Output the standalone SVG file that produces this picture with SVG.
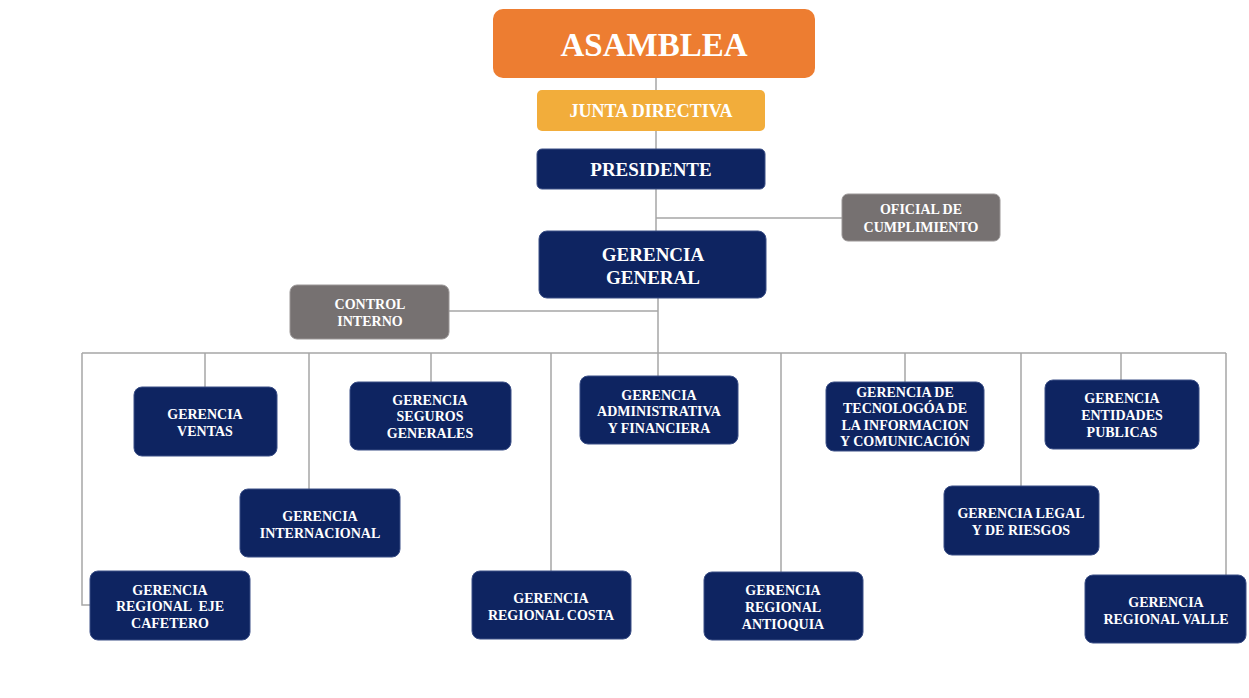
<svg xmlns="http://www.w3.org/2000/svg" width="1249" height="698" viewBox="0 0 1249 698">
<style>
.n rect{fill:#0E2461;stroke:#3A4E86;stroke-width:1}
.g rect{fill:#767171;stroke:#9A9696;stroke-width:1}
text{font-family:"Liberation Serif","Times New Roman",serif;font-weight:bold;fill:#fff;text-anchor:middle}
.s{font-size:14px}
.c line, .c polyline{stroke:#A6A6A6;stroke-width:1.5;fill:none}
</style>
<rect width="1249" height="698" fill="#fff"/>
<g class="c" id="connectors">
<line x1="656" y1="78" x2="656" y2="231"/>
<line x1="656" y1="218" x2="842" y2="218"/>
<line x1="658" y1="298" x2="658" y2="376"/>
<line x1="449" y1="311" x2="658" y2="311"/>
<line x1="82" y1="353" x2="1226" y2="353"/>
<polyline points="82,353 82,605 90,605"/>
<line x1="205" y1="353" x2="205" y2="387"/>
<line x1="309" y1="353" x2="309" y2="489"/>
<line x1="431" y1="353" x2="431" y2="382"/>
<line x1="551" y1="353" x2="551" y2="571"/>
<line x1="781" y1="353" x2="781" y2="572"/>
<line x1="905" y1="353" x2="905" y2="382"/>
<line x1="1021" y1="353" x2="1021" y2="486"/>
<line x1="1121" y1="353" x2="1121" y2="380"/>
<line x1="1226" y1="353" x2="1226" y2="575"/>
</g>
<g id="asamblea"><rect x="493" y="9" width="322" height="69" rx="10" fill="#ED7D31"/><text x="654" y="56" font-size="33">ASAMBLEA</text></g>
<g id="junta"><rect x="537" y="90" width="228" height="41" rx="5" fill="#F2AD3B"/><text x="651" y="117" font-size="18">JUNTA DIRECTIVA</text></g>
<g id="presidente" class="n"><rect x="537" y="149" width="228" height="40" rx="5"/><text x="651" y="176" font-size="19">PRESIDENTE</text></g>
<g id="oficial" class="g"><rect x="842" y="194" width="158" height="47" rx="6"/><text x="921" y="214" font-size="14">OFICIAL DE</text><text x="921" y="232" font-size="14">CUMPLIMIENTO</text></g>
<g id="gerencia-general" class="n"><rect x="539" y="231" width="227" height="67" rx="8"/><text x="653" y="261" font-size="19">GERENCIA</text><text x="653" y="284" font-size="19">GENERAL</text></g>
<g id="control" class="g"><rect x="290" y="285" width="159" height="54" rx="7"/><text x="370" y="309" font-size="14">CONTROL</text><text x="370" y="326" font-size="14">INTERNO</text></g>
<g id="ventas" class="n s"><rect x="134" y="387" width="143" height="69" rx="8"/><text x="205" y="419">GERENCIA</text><text x="205" y="436">VENTAS</text></g>
<g id="seguros" class="n s"><rect x="350" y="382" width="161" height="68" rx="8"/><text x="430" y="405">GERENCIA</text><text x="430" y="421">SEGUROS</text><text x="430" y="438">GENERALES</text></g>
<g id="admin" class="n s"><rect x="580" y="376" width="158" height="68" rx="8"/><text x="659" y="400">GERENCIA</text><text x="659" y="416">ADMINISTRATIVA</text><text x="659" y="433">Y FINANCIERA</text></g>
<g id="tecnologia" class="n s"><rect x="826" y="382" width="158" height="69" rx="8"/><text x="905" y="397">GERENCIA DE</text><text x="905" y="413">TECNOLOGÓA DE</text><text x="905" y="430">LA INFORMACION</text><text x="905" y="446">Y COMUNICACIÓN</text></g>
<g id="entidades" class="n s"><rect x="1045" y="380" width="154" height="69" rx="8"/><text x="1122" y="403">GERENCIA</text><text x="1122" y="420">ENTIDADES</text><text x="1122" y="437">PUBLICAS</text></g>
<g id="internacional" class="n s"><rect x="240" y="489" width="160" height="68" rx="8"/><text x="320" y="521">GERENCIA</text><text x="320" y="538">INTERNACIONAL</text></g>
<g id="legal" class="n s"><rect x="944" y="486" width="155" height="69" rx="8"/><text x="1021" y="518">GERENCIA LEGAL</text><text x="1021" y="535">Y DE RIESGOS</text></g>
<g id="eje-cafetero" class="n s"><rect x="90" y="571" width="160" height="69" rx="8"/><text x="170" y="595">GERENCIA</text><text x="170" y="611" xml:space="preserve">REGIONAL  EJE</text><text x="170" y="628">CAFETERO</text></g>
<g id="costa" class="n s"><rect x="472" y="571" width="159" height="68" rx="8"/><text x="551" y="603">GERENCIA</text><text x="551" y="620">REGIONAL COSTA</text></g>
<g id="antioquia" class="n s"><rect x="704" y="572" width="159" height="68" rx="8"/><text x="783" y="595">GERENCIA</text><text x="783" y="612">REGIONAL</text><text x="783" y="629">ANTIOQUIA</text></g>
<g id="valle" class="n s"><rect x="1085" y="575" width="161" height="68" rx="8"/><text x="1166" y="607">GERENCIA</text><text x="1166" y="624">REGIONAL VALLE</text></g>
</svg>
